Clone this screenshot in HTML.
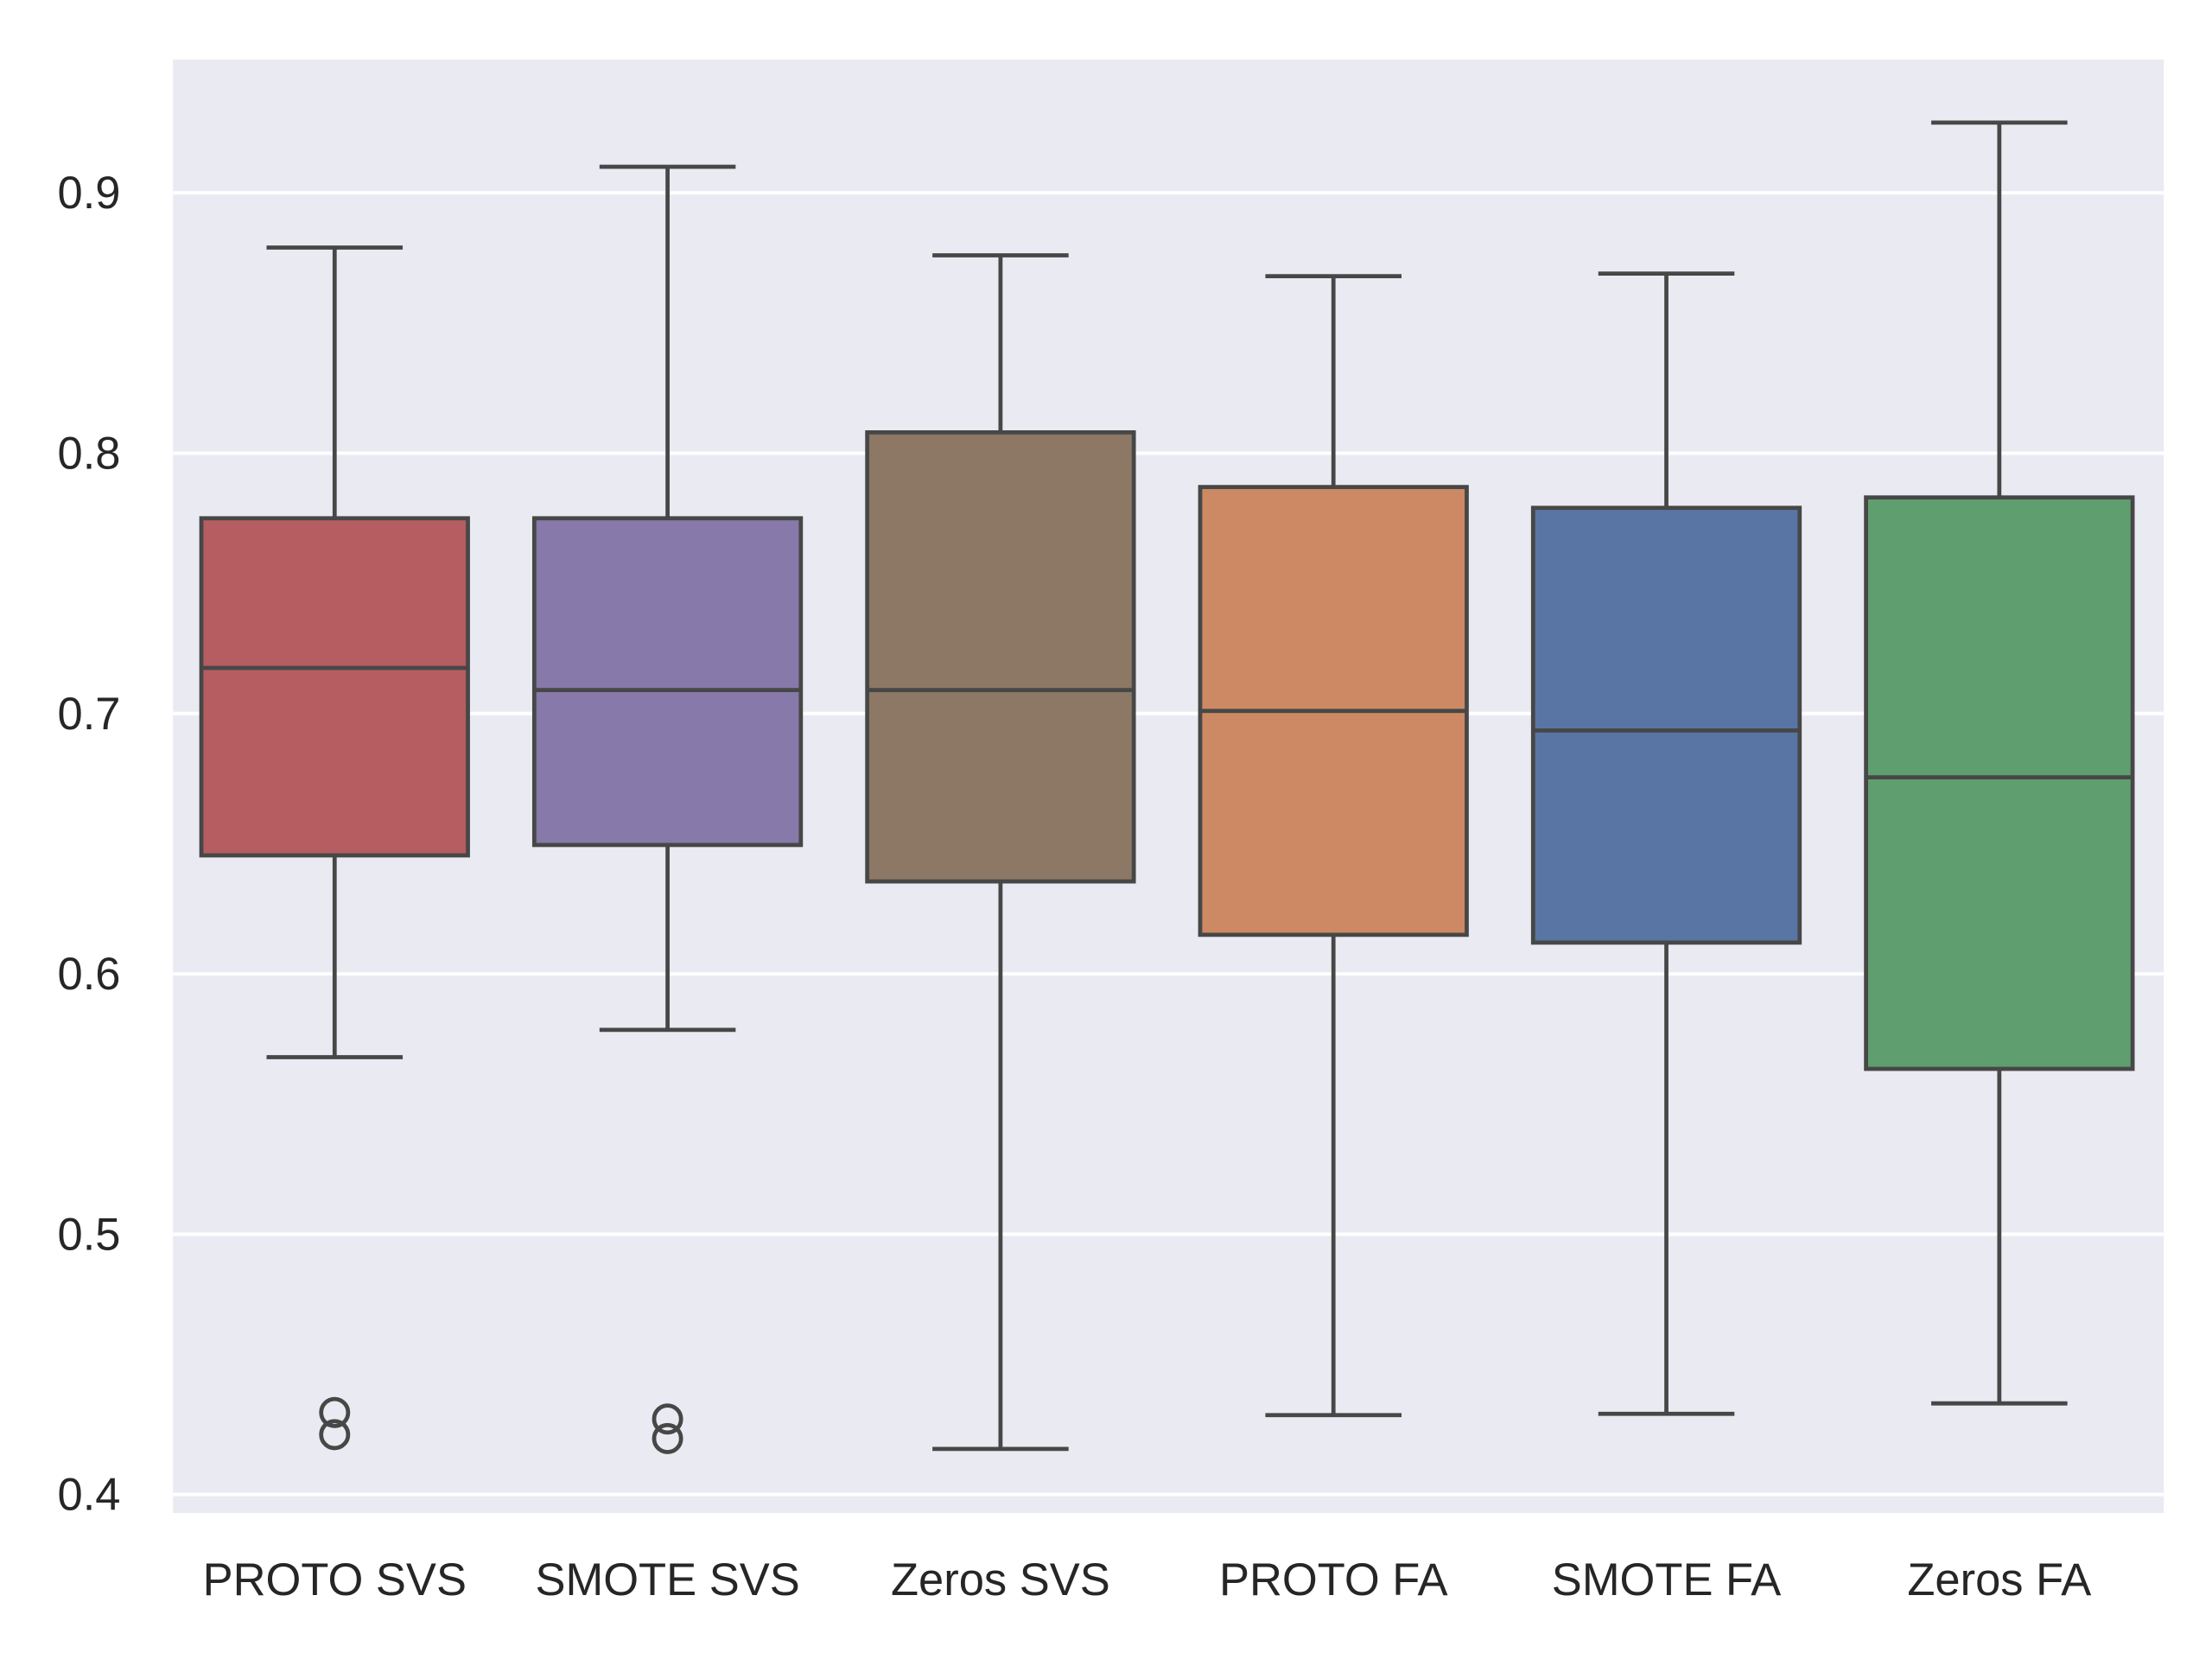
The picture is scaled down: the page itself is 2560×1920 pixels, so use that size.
<!DOCTYPE html>
<html><head><meta charset="utf-8"><style>
html,body{margin:0;padding:0;background:#fff}
svg{display:block}
text{font-family:"Liberation Sans",sans-serif;fill:#262626}
</style></head><body>
<svg id="chart" width="2560" height="1920" viewBox="0 0 1560 1170" xmlns="http://www.w3.org/2000/svg">
<rect x="122" y="42" width="1404" height="1025" fill="#eaeaf2"/>
<g id="grid"></g><g id="boxes"></g><g id="yticks"></g><g id="xticks"></g>
</svg>
<script>
const categories=["PROTO SVS","SMOTE SVS","Zeros SVS","PROTO FA","SMOTE FA","Zeros FA"];
const whiskerHigh=[0.879,0.910,0.876,0.868,0.869,0.927];
const q3=[0.775,0.775,0.808,0.787,0.779,0.783];
const medians=[0.7175,0.709,0.709,0.701,0.6935,0.6755];
const q1=[0.6455,0.6495,0.6355,0.615,0.612,0.5635];
const whiskerLow=[0.568,0.5785,0.4175,0.4305,0.431,0.435];
const outliers=[[0.4315,0.423],[0.429,0.4215],[],[],[],[]];
const colors=["#b55d60","#8779a9","#8c7864","#cc8963","#5975a4","#5f9e6e"];
const yTicks=[0.4,0.5,0.6,0.7,0.8,0.9];
const yTickLabels=["0.4","0.5","0.6","0.7","0.8","0.9"];
const NS="http://www.w3.org/2000/svg";
const y=v=>1054-(v-0.4)*1836;
const x=i=>236+i*234.8;
const BW=188, CW=96, LC="#474747", LW=2.9;
function mk(tag,attrs,parent){const e=document.createElementNS(NS,tag);for(const k in attrs)e.setAttribute(k,attrs[k]);parent.appendChild(e);return e;}
const grid=document.getElementById('grid'),boxes=document.getElementById('boxes'),yt=document.getElementById('yticks'),xt=document.getElementById('xticks');
yTicks.forEach((t,i)=>{
  const l=mk('line',{x1:122,x2:1526,y1:y(t),y2:y(t),stroke:'#fff','stroke-width':2.4},grid);
  
  
  const tx=mk('text',{x:85,y:y(t)+11,'text-anchor':'end','font-size':32},yt);
  tx.textContent=yTickLabels[i];
  
  
});
categories.forEach((c,i)=>{
  const g=mk('g',{},boxes);
  
  
  const cx=x(i);
  mk('line',{x1:cx,x2:cx,y1:y(whiskerHigh[i]),y2:y(q3[i]),stroke:LC,'stroke-width':LW},g);
  mk('line',{x1:cx,x2:cx,y1:y(q1[i]),y2:y(whiskerLow[i]),stroke:LC,'stroke-width':LW},g);
  mk('line',{x1:cx-CW/2,x2:cx+CW/2,y1:y(whiskerHigh[i]),y2:y(whiskerHigh[i]),stroke:LC,'stroke-width':LW},g);
  mk('line',{x1:cx-CW/2,x2:cx+CW/2,y1:y(whiskerLow[i]),y2:y(whiskerLow[i]),stroke:LC,'stroke-width':LW},g);
  mk('rect',{x:cx-BW/2,y:y(q3[i]),width:BW,height:y(q1[i])-y(q3[i]),fill:colors[i],stroke:LC,'stroke-width':LW},g);
  mk('line',{x1:cx-BW/2,x2:cx+BW/2,y1:y(medians[i]),y2:y(medians[i]),stroke:LC,'stroke-width':LW},g);
  outliers[i].forEach(o=>{
    const ci=mk('circle',{cx:cx,cy:y(o),r:9.5,fill:'none',stroke:LC,'stroke-width':LW},g);
    
    
  });
  const tx=mk('text',{x:cx,y:1125,'text-anchor':'middle','font-size':32},xt);
  tx.textContent=c;
  
  
});
</script>
</body></html>
